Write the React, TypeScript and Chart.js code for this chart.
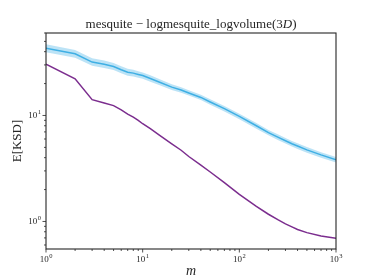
import React, { useEffect, useRef } from 'react';
import { Chart, registerables } from 'chart.js';

Chart.register(...registerables);

const mValues = [1, 2, 3, 4, 5, 6, 7, 8, 9, 10, 12, 15, 20, 25, 30, 40, 50, 70, 100, 150, 200, 250, 300, 350, 400, 500, 700, 1000];
const blueMean = [43.2, 38.2, 31.9, 30.5, 29.0, 27.0, 25.6, 25.1, 24.4, 23.8, 22.3, 20.6, 18.5, 17.4, 16.3, 14.8, 13.4, 11.6, 9.8, 8.0, 6.9, 6.25, 5.77, 5.41, 5.15, 4.74, 4.25, 3.82];
const blueUpper = [47.0, 41.5, 34.6, 33.0, 31.3, 29.1, 27.6, 27.0, 26.2, 25.5, 23.9, 22.0, 19.7, 18.5, 17.3, 15.7, 14.2, 12.3, 10.4, 8.5, 7.3, 6.66, 6.12, 5.75, 5.47, 5.03, 4.51, 4.05];
const blueLower = [39.6, 35.1, 29.4, 28.1, 26.8, 25.0, 23.7, 23.3, 22.7, 22.2, 20.8, 19.3, 17.4, 16.4, 15.4, 14.0, 12.6, 10.9, 9.2, 7.5, 6.5, 5.88, 5.43, 5.09, 4.84, 4.46, 4.0, 3.6];
const purpleValues = [30.5, 22.2, 14.1, 13.1, 12.4, 11.3, 10.3, 9.66, 9.0, 8.36, 7.5, 6.5, 5.4, 4.7, 4.1, 3.4, 2.93, 2.33, 1.8, 1.39, 1.17, 1.04, 0.95, 0.89, 0.84, 0.785, 0.728, 0.695];

const xMajorTicks = [1, 10, 100, 1000];
const yMajorTicks = [1, 10];
const xRange = [1, 1000];
const yRange = [0.55, 60];

const titleParts: [string, boolean][] = [
  ['mesquite \u2212 logmesquite_logvolume(3', false],
  ['D', true],
  [')', false],
];
const yLabel = 'E[KSD]';
const xLabel = 'm';

const FONT = "'Liberation Serif', 'DejaVu Serif', serif";

function minorTicks(min: number, max: number): number[] {
  const out: number[] = [];
  for (let d = -2; d <= 4; d++) {
    for (let k = 1; k <= 9; k++) {
      const v = k * Math.pow(10, d);
      if (v >= min * 0.9999 && v <= max * 1.0001) out.push(v);
    }
  }
  return out;
}

function drawPow(ctx: CanvasRenderingContext2D, exp: number, x: number, y: number, align: 'center' | 'right') {
  ctx.save();
  ctx.fillStyle = '#262626';
  ctx.textBaseline = 'middle';
  ctx.textAlign = 'left';
  const baseFont = `9px ${FONT}`;
  const supFont = `6.5px ${FONT}`;
  ctx.font = baseFont;
  const wb = ctx.measureText('10').width;
  ctx.font = supFont;
  const ws = ctx.measureText(String(exp)).width;
  const total = wb + ws + 0.5;
  const x0 = align === 'center' ? x - total / 2 : x - total;
  ctx.font = baseFont;
  ctx.fillText('10', x0, y);
  ctx.font = supFont;
  ctx.fillText(String(exp), x0 + wb + 0.5, y - 3.5);
  ctx.restore();
}

const axesPlugin = {
  id: 'mplAxes',
  afterDraw(chart: any) {
    const { ctx, chartArea: a, scales } = chart;
    const xs = scales.x;
    const ys = scales.y;
    ctx.save();
    ctx.strokeStyle = '#262626';
    ctx.lineWidth = 0.8;
    const xMaj = new Set(xMajorTicks);
    for (const v of minorTicks(xRange[0], xRange[1])) {
      const px = xs.getPixelForValue(v);
      const len = xMaj.has(v) ? 3.5 : 2;
      ctx.beginPath();
      ctx.moveTo(px, a.bottom);
      ctx.lineTo(px, a.bottom + len);
      ctx.stroke();
    }
    const yMaj = new Set(yMajorTicks);
    for (const v of minorTicks(yRange[0], yRange[1])) {
      const py = ys.getPixelForValue(v);
      const len = yMaj.has(v) ? 3.5 : 2;
      ctx.beginPath();
      ctx.moveTo(a.left, py);
      ctx.lineTo(a.left - len, py);
      ctx.stroke();
    }
    ctx.lineWidth = 1.1;
    ctx.strokeRect(a.left, a.top, a.right - a.left, a.bottom - a.top);
    for (const v of xMajorTicks) {
      drawPow(ctx, Math.round(Math.log10(v)), xs.getPixelForValue(v), a.bottom + 11, 'center');
    }
    for (const v of yMajorTicks) {
      drawPow(ctx, Math.round(Math.log10(v)), a.left - 5, ys.getPixelForValue(v) + 0.5, 'right');
    }
    ctx.fillStyle = '#262626';
    ctx.textBaseline = 'alphabetic';
    ctx.textAlign = 'left';
    let tw = 0;
    for (const [t, it] of titleParts) {
      ctx.font = `${it ? 'italic ' : ''}13px ${FONT}`;
      tw += ctx.measureText(t).width;
    }
    let tx = (a.left + a.right) / 2 - tw / 2;
    for (const [t, it] of titleParts) {
      ctx.font = `${it ? 'italic ' : ''}13px ${FONT}`;
      ctx.fillText(t, tx, 28);
      tx += ctx.measureText(t).width;
    }
    ctx.font = `italic 14px ${FONT}`;
    ctx.textAlign = 'center';
    ctx.textBaseline = 'middle';
    ctx.fillText(xLabel, (a.left + a.right) / 2, 271);
    ctx.translate(18, (a.top + a.bottom) / 2);
    ctx.rotate(-Math.PI / 2);
    ctx.font = `13px ${FONT}`;
    ctx.fillText(yLabel, 0, 0);
    ctx.restore();
  },
};

export default function App() {
  const ref = useRef<HTMLCanvasElement>(null);
  useEffect(() => {
    const toXY = (ys: number[]) => ys.map((y, i) => ({ x: mValues[i], y }));
    const chart = new Chart(ref.current!, {
      type: 'line',
      data: {
        datasets: [
          { data: toXY(blueLower), borderWidth: 0, borderColor: 'transparent', pointRadius: 0, fill: false },
          { data: toXY(blueUpper), borderWidth: 0, borderColor: 'transparent', pointRadius: 0, fill: '-1', backgroundColor: 'rgba(64,176,228,0.35)' },
          { data: toXY(blueMean), borderColor: '#3fb0e4', borderWidth: 1.5, pointRadius: 0, fill: false },
          { data: toXY(purpleValues), borderColor: '#7b2d8e', borderWidth: 1.5, pointRadius: 0, fill: false },
        ],
      } as any,
      options: {
        responsive: false,
        animation: false,
        layout: { padding: { left: 46, top: 33, right: 38, bottom: 31 } },
        plugins: { legend: { display: false }, tooltip: { enabled: false }, title: { display: false } },
        scales: {
          x: { type: 'logarithmic', min: xRange[0], max: xRange[1], display: false },
          y: { type: 'logarithmic', min: yRange[0], max: yRange[1], display: false },
        },
      } as any,
      plugins: [axesPlugin],
    });
    return () => chart.destroy();
  }, []);
  return (
    <div style={{ position: 'fixed', left: 0, top: 0, width: 374, height: 280, background: '#fff' }}>
      <canvas ref={ref} width={374} height={280} style={{ display: 'block', width: 374, height: 280 }} />
    </div>
  );
}
